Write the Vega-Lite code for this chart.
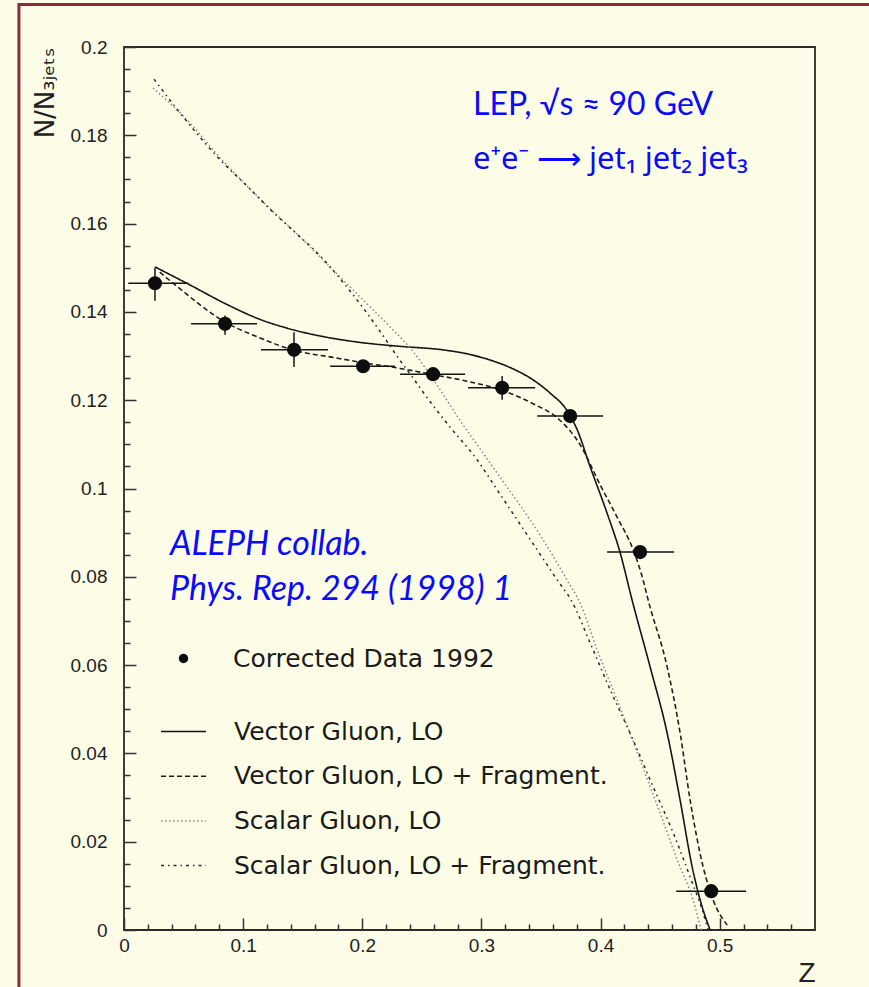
{
  "$schema": "https://vega.github.io/schema/vega-lite/v6.json",
  "width": 691,
  "height": 883,
  "autosize": {"type": "none"},
  "padding": {"left": 124, "top": 47, "right": 54, "bottom": 57},
  "background": "#fdfde7",
  "resolve": {"axis": {"x": "independent", "y": "independent"}},
  "datasets": {
    "points": [
      {"series": "Corrected Data 1992", "z": 0.026, "v": 0.1465, "zlo": 0.0036, "zhi": 0.054, "vlo": 0.1425, "vhi": 0.150},
      {"series": "Corrected Data 1992", "z": 0.0848, "v": 0.1373, "zlo": 0.0563, "zhi": 0.1117, "vlo": 0.1348, "vhi": 0.1392},
      {"series": "Corrected Data 1992", "z": 0.1427, "v": 0.1314, "zlo": 0.115, "zhi": 0.1713, "vlo": 0.1275, "vhi": 0.1354},
      {"series": "Corrected Data 1992", "z": 0.2007, "v": 0.1277, "zlo": 0.173, "zhi": 0.2275, "vlo": 0.1266, "vhi": 0.1288},
      {"series": "Corrected Data 1992", "z": 0.2594, "v": 0.1259, "zlo": 0.2317, "zhi": 0.2863, "vlo": 0.1247, "vhi": 0.1271},
      {"series": "Corrected Data 1992", "z": 0.3174, "v": 0.1228, "zlo": 0.2888, "zhi": 0.3451, "vlo": 0.1201, "vhi": 0.1255},
      {"series": "Corrected Data 1992", "z": 0.3745, "v": 0.1164, "zlo": 0.3468, "zhi": 0.4022, "vlo": 0.1149, "vhi": 0.1179},
      {"series": "Corrected Data 1992", "z": 0.4332, "v": 0.0856, "zlo": 0.4055, "zhi": 0.4618, "vlo": 0.0846, "vhi": 0.0866},
      {"series": "Corrected Data 1992", "z": 0.4929, "v": 0.0088, "zlo": 0.4635, "zhi": 0.5222, "vlo": 0.0078, "vhi": 0.0098}
    ],
    "curves": [
      {"model": "Vector Gluon, LO", "z": 0.026, "v": 0.1502},
      {"model": "Vector Gluon, LO", "z": 0.0554, "v": 0.1461},
      {"model": "Vector Gluon, LO", "z": 0.0848, "v": 0.1419},
      {"model": "Vector Gluon, LO", "z": 0.1142, "v": 0.1383},
      {"model": "Vector Gluon, LO", "z": 0.1427, "v": 0.1359},
      {"model": "Vector Gluon, LO", "z": 0.1755, "v": 0.1340},
      {"model": "Vector Gluon, LO", "z": 0.204, "v": 0.1329},
      {"model": "Vector Gluon, LO", "z": 0.2317, "v": 0.1322},
      {"model": "Vector Gluon, LO", "z": 0.2678, "v": 0.1314},
      {"model": "Vector Gluon, LO", "z": 0.288, "v": 0.1305},
      {"model": "Vector Gluon, LO", "z": 0.3073, "v": 0.1291},
      {"model": "Vector Gluon, LO", "z": 0.3257, "v": 0.1272},
      {"model": "Vector Gluon, LO", "z": 0.3434, "v": 0.1246},
      {"model": "Vector Gluon, LO", "z": 0.3577, "v": 0.1216},
      {"model": "Vector Gluon, LO", "z": 0.372, "v": 0.1176},
      {"model": "Vector Gluon, LO", "z": 0.3804, "v": 0.1133},
      {"model": "Vector Gluon, LO", "z": 0.3913, "v": 0.1049},
      {"model": "Vector Gluon, LO", "z": 0.4055, "v": 0.0944},
      {"model": "Vector Gluon, LO", "z": 0.4165, "v": 0.0854},
      {"model": "Vector Gluon, LO", "z": 0.4265, "v": 0.0747},
      {"model": "Vector Gluon, LO", "z": 0.4416, "v": 0.0596},
      {"model": "Vector Gluon, LO", "z": 0.4559, "v": 0.0446},
      {"model": "Vector Gluon, LO", "z": 0.4668, "v": 0.0294},
      {"model": "Vector Gluon, LO", "z": 0.4769, "v": 0.0143},
      {"model": "Vector Gluon, LO", "z": 0.4836, "v": 0.0068},
      {"model": "Vector Gluon, LO", "z": 0.492, "v": 0.0},

      {"model": "Vector Gluon, LO + Fragment.", "z": 0.03, "v": 0.149},
      {"model": "Vector Gluon, LO + Fragment.", "z": 0.0453, "v": 0.1456},
      {"model": "Vector Gluon, LO + Fragment.", "z": 0.0848, "v": 0.1377},
      {"model": "Vector Gluon, LO + Fragment.", "z": 0.1142, "v": 0.1341},
      {"model": "Vector Gluon, LO + Fragment.", "z": 0.1427, "v": 0.1313},
      {"model": "Vector Gluon, LO + Fragment.", "z": 0.1755, "v": 0.1297},
      {"model": "Vector Gluon, LO + Fragment.", "z": 0.2007, "v": 0.1285},
      {"model": "Vector Gluon, LO + Fragment.", "z": 0.2317, "v": 0.1272},
      {"model": "Vector Gluon, LO + Fragment.", "z": 0.2594, "v": 0.1258},
      {"model": "Vector Gluon, LO + Fragment.", "z": 0.288, "v": 0.1243},
      {"model": "Vector Gluon, LO + Fragment.", "z": 0.3157, "v": 0.1224},
      {"model": "Vector Gluon, LO + Fragment.", "z": 0.3434, "v": 0.1192},
      {"model": "Vector Gluon, LO + Fragment.", "z": 0.3645, "v": 0.1158},
      {"model": "Vector Gluon, LO + Fragment.", "z": 0.3829, "v": 0.1099},
      {"model": "Vector Gluon, LO + Fragment.", "z": 0.3997, "v": 0.1008},
      {"model": "Vector Gluon, LO + Fragment.", "z": 0.4139, "v": 0.0935},
      {"model": "Vector Gluon, LO + Fragment.", "z": 0.4274, "v": 0.0861},
      {"model": "Vector Gluon, LO + Fragment.", "z": 0.4358, "v": 0.0792},
      {"model": "Vector Gluon, LO + Fragment.", "z": 0.44, "v": 0.0747},
      {"model": "Vector Gluon, LO + Fragment.", "z": 0.4559, "v": 0.0596},
      {"model": "Vector Gluon, LO + Fragment.", "z": 0.4668, "v": 0.0446},
      {"model": "Vector Gluon, LO + Fragment.", "z": 0.4752, "v": 0.0294},
      {"model": "Vector Gluon, LO + Fragment.", "z": 0.4861, "v": 0.0143},
      {"model": "Vector Gluon, LO + Fragment.", "z": 0.4945, "v": 0.0068},
      {"model": "Vector Gluon, LO + Fragment.", "z": 0.5063, "v": 0.0011},

      {"model": "Scalar Gluon, LO", "z": 0.0244, "v": 0.1907},
      {"model": "Scalar Gluon, LO", "z": 0.0529, "v": 0.1835},
      {"model": "Scalar Gluon, LO", "z": 0.0823, "v": 0.1744},
      {"model": "Scalar Gluon, LO", "z": 0.1142, "v": 0.1656},
      {"model": "Scalar Gluon, LO", "z": 0.1461, "v": 0.1574},
      {"model": "Scalar Gluon, LO", "z": 0.1814, "v": 0.1479},
      {"model": "Scalar Gluon, LO", "z": 0.2007, "v": 0.1427},
      {"model": "Scalar Gluon, LO", "z": 0.2233, "v": 0.1366},
      {"model": "Scalar Gluon, LO", "z": 0.2427, "v": 0.1310},
      {"model": "Scalar Gluon, LO", "z": 0.2628, "v": 0.1234},
      {"model": "Scalar Gluon, LO", "z": 0.2796, "v": 0.1164},
      {"model": "Scalar Gluon, LO", "z": 0.3014, "v": 0.108},
      {"model": "Scalar Gluon, LO", "z": 0.3216, "v": 0.1003},
      {"model": "Scalar Gluon, LO", "z": 0.3409, "v": 0.0929},
      {"model": "Scalar Gluon, LO", "z": 0.3577, "v": 0.0858},
      {"model": "Scalar Gluon, LO", "z": 0.372, "v": 0.0792},
      {"model": "Scalar Gluon, LO", "z": 0.3829, "v": 0.0740},
      {"model": "Scalar Gluon, LO", "z": 0.3972, "v": 0.0634},
      {"model": "Scalar Gluon, LO", "z": 0.4139, "v": 0.0521},
      {"model": "Scalar Gluon, LO", "z": 0.4332, "v": 0.0385},
      {"model": "Scalar Gluon, LO", "z": 0.45, "v": 0.0265},
      {"model": "Scalar Gluon, LO", "z": 0.4643, "v": 0.0159},
      {"model": "Scalar Gluon, LO", "z": 0.4777, "v": 0.0068},
      {"model": "Scalar Gluon, LO", "z": 0.4845, "v": 0.0},

      {"model": "Scalar Gluon, LO + Fragment.", "z": 0.0252, "v": 0.1927},
      {"model": "Scalar Gluon, LO + Fragment.", "z": 0.0437, "v": 0.1862},
      {"model": "Scalar Gluon, LO + Fragment.", "z": 0.0621, "v": 0.1801},
      {"model": "Scalar Gluon, LO + Fragment.", "z": 0.0823, "v": 0.174},
      {"model": "Scalar Gluon, LO + Fragment.", "z": 0.1041, "v": 0.1683},
      {"model": "Scalar Gluon, LO + Fragment.", "z": 0.1251, "v": 0.1626},
      {"model": "Scalar Gluon, LO + Fragment.", "z": 0.1461, "v": 0.1574},
      {"model": "Scalar Gluon, LO + Fragment.", "z": 0.1587, "v": 0.1543},
      {"model": "Scalar Gluon, LO + Fragment.", "z": 0.1872, "v": 0.1456},
      {"model": "Scalar Gluon, LO + Fragment.", "z": 0.2149, "v": 0.1356},
      {"model": "Scalar Gluon, LO + Fragment.", "z": 0.2317, "v": 0.129},
      {"model": "Scalar Gluon, LO + Fragment.", "z": 0.2427, "v": 0.125},
      {"model": "Scalar Gluon, LO + Fragment.", "z": 0.2511, "v": 0.1218},
      {"model": "Scalar Gluon, LO + Fragment.", "z": 0.2737, "v": 0.1139},
      {"model": "Scalar Gluon, LO + Fragment.", "z": 0.2964, "v": 0.1065},
      {"model": "Scalar Gluon, LO + Fragment.", "z": 0.3132, "v": 0.0997},
      {"model": "Scalar Gluon, LO + Fragment.", "z": 0.33, "v": 0.0929},
      {"model": "Scalar Gluon, LO + Fragment.", "z": 0.3468, "v": 0.0861},
      {"model": "Scalar Gluon, LO + Fragment.", "z": 0.3636, "v": 0.0793},
      {"model": "Scalar Gluon, LO + Fragment.", "z": 0.3762, "v": 0.0743},
      {"model": "Scalar Gluon, LO + Fragment.", "z": 0.3913, "v": 0.065},
      {"model": "Scalar Gluon, LO + Fragment.", "z": 0.4081, "v": 0.0544},
      {"model": "Scalar Gluon, LO + Fragment.", "z": 0.4274, "v": 0.043},
      {"model": "Scalar Gluon, LO + Fragment.", "z": 0.4442, "v": 0.0324},
      {"model": "Scalar Gluon, LO + Fragment.", "z": 0.461, "v": 0.022},
      {"model": "Scalar Gluon, LO + Fragment.", "z": 0.4752, "v": 0.012},
      {"model": "Scalar Gluon, LO + Fragment.", "z": 0.4861, "v": 0.0039},
      {"model": "Scalar Gluon, LO + Fragment.", "z": 0.4903, "v": 0.0}
    ]
  },
  "layer": [
    {
      "data": {"name": "curves"},
      "mark": {"type": "line", "clip": true, "interpolate": "monotone"},
      "encoding": {
        "x": {
          "field": "z", "type": "quantitative",
          "scale": {"domain": [0, 0.58], "nice": false, "zero": false},
          "axis": {
            "orient": "bottom",
            "title": "Z", "titleAnchor": "end", "titleAlign": "right", "titleFont": "Liberation Sans", "titleFontSize": 28, "titleFontWeight": "normal", "titleColor": "#222", "titlePadding": 4,
            "values": [0, 0.1, 0.2, 0.3, 0.4, 0.5],
            "format": "~g",
            "labelOverlap": false,
            "tickSize": -12,
            "labelPadding": 18
          }
        },
        "y": {
          "field": "v", "type": "quantitative",
          "scale": {"domain": [0, 0.2], "nice": false},
          "axis": {
            "orient": "left",
            "title": "N/N₃ⱼₑₜₛ", "titleAnchor": "end", "titleFont": "DejaVu Sans", "titleFontSize": 26, "titleFontWeight": "normal", "titleColor": "#222", "titlePadding": 12,
            "values": [0, 0.02, 0.04, 0.06, 0.08, 0.1, 0.12, 0.14, 0.16, 0.18, 0.2],
            "format": "~g",
            "labelOverlap": false,
            "tickSize": -12,
            "labelPadding": 29
          }
        },
        "color": {
          "field": "model", "type": "nominal",
          "scale": {"domain": ["Vector Gluon, LO", "Vector Gluon, LO + Fragment.", "Scalar Gluon, LO", "Scalar Gluon, LO + Fragment."], "range": ["#151515", "#1e1e1e", "#8a8a8a", "#2a2a2a"]},
          "legend": {"title": null, "orient": "none", "legendX": 36, "legendY": 661, "symbolType": "stroke", "symbolSize": 2025, "labelFont": "DejaVu Sans", "labelFontSize": 25, "labelColor": "#1a1a1a", "labelOffset": 27, "labelLimit": 600, "padding": 0, "rowPadding": 7.7}
        },
        "strokeDash": {
          "field": "model", "type": "nominal",
          "scale": {"domain": ["Vector Gluon, LO", "Vector Gluon, LO + Fragment.", "Scalar Gluon, LO", "Scalar Gluon, LO + Fragment."], "range": [[1, 0], [5, 3], [1.5, 2.5], [3, 4, 1.5, 4]]},
          "legend": {"title": null, "orient": "none", "legendX": 36, "legendY": 661, "symbolType": "stroke", "symbolSize": 2025, "labelFont": "DejaVu Sans", "labelFontSize": 25, "labelColor": "#1a1a1a", "labelOffset": 27, "labelLimit": 600, "padding": 0, "rowPadding": 7.7}
        },
        "strokeWidth": {
          "field": "model", "type": "nominal",
          "scale": {"domain": ["Vector Gluon, LO", "Vector Gluon, LO + Fragment.", "Scalar Gluon, LO", "Scalar Gluon, LO + Fragment."], "range": [1.6, 1.5, 1.1, 2.0]},
          "legend": {"title": null, "orient": "none", "legendX": 36, "legendY": 661, "symbolType": "stroke", "symbolSize": 2025, "labelFont": "DejaVu Sans", "labelFontSize": 25, "labelColor": "#1a1a1a", "labelOffset": 27, "labelLimit": 600, "padding": 0, "rowPadding": 7.7}
        }
      }
    },
    {
      "data": {"values": [{}]},
      "mark": {"type": "rect", "fill": "transparent", "stroke": "#8d2b3b", "strokeWidth": 3, "clip": false},
      "encoding": {
        "x": {"datum": -0.0882, "type": "quantitative",
          "axis": {"orient": "bottom", "title": null, "labels": false, "tickSize": -6,
            "values": [0.02,0.04,0.06,0.08,0.12,0.14,0.16,0.18,0.22,0.24,0.26,0.28,0.32,0.34,0.36,0.38,0.42,0.44,0.46,0.48,0.52,0.54,0.56]}},
        "x2": {"datum": 0.75},
        "y": {"datum": 0.2096, "type": "quantitative",
          "axis": {"orient": "left", "title": null, "labels": false, "tickSize": -6,
            "values": [0.005,0.01,0.015,0.025,0.03,0.035,0.045,0.05,0.055,0.065,0.07,0.075,0.085,0.09,0.095,0.105,0.11,0.115,0.125,0.13,0.135,0.145,0.15,0.155,0.165,0.17,0.175,0.185,0.19,0.195]}},
        "y2": {"datum": -0.03}
      }
    },
    {
      "data": {"name": "points"},
      "mark": {"type": "rule", "color": "#151515", "strokeWidth": 1.5},
      "encoding": {
        "x": {"field": "zlo", "type": "quantitative", "axis": null},
        "x2": {"field": "zhi"},
        "y": {"field": "v", "type": "quantitative", "axis": null}
      }
    },
    {
      "data": {"name": "points"},
      "mark": {"type": "rule", "color": "#151515", "strokeWidth": 1.5},
      "encoding": {
        "x": {"field": "z", "type": "quantitative", "axis": null},
        "y": {"field": "vlo", "type": "quantitative", "axis": null},
        "y2": {"field": "vhi"}
      }
    },
    {
      "data": {"name": "points"},
      "mark": {"type": "point", "filled": true, "opacity": 1, "color": "#0d0d0d", "size": 200},
      "encoding": {
        "x": {"field": "z", "type": "quantitative", "axis": null},
        "y": {"field": "v", "type": "quantitative", "axis": null},
        "shape": {
          "field": "series", "type": "nominal",
          "scale": {"range": ["circle"]},
          "legend": {"title": null, "orient": "none", "legendX": 47, "legendY": 599, "symbolSize": 90, "symbolFillColor": "#111", "symbolStrokeColor": "#111", "labelFont": "DejaVu Sans", "labelFontSize": 25, "labelColor": "#1a1a1a", "labelOffset": 37, "labelLimit": 600, "padding": 0}
        }
      }
    },
    {
      "data": {"values": [{}]},
      "mark": {"type": "text", "text": "LEP, √s ≈ 90 GeV", "font": "Lato", "fontSize": 32, "color": "#0a0aff", "align": "left", "baseline": "middle"},
      "encoding": {"x": {"datum": 0.293, "type": "quantitative", "axis": null}, "y": {"datum": 0.1869, "type": "quantitative", "axis": null}}
    },
    {
      "data": {"values": [{}]},
      "mark": {"type": "text", "text": "e⁺e⁻ ⟶ jet₁ jet₂ jet₃", "font": "Noto Sans", "fontSize": 31, "color": "#0a0aff", "align": "left", "baseline": "middle"},
      "encoding": {"x": {"datum": 0.293, "type": "quantitative", "axis": null}, "y": {"datum": 0.1744, "type": "quantitative", "axis": null}}
    },
    {
      "data": {"values": [{}]},
      "mark": {"type": "text", "text": "ALEPH collab.", "font": "Lato", "fontSize": 34, "fontStyle": "italic", "color": "#0a0aff", "align": "left", "baseline": "middle"},
      "encoding": {"x": {"datum": 0.0386, "type": "quantitative", "axis": null}, "y": {"datum": 0.0872, "type": "quantitative", "axis": null}}
    },
    {
      "data": {"values": [{}]},
      "mark": {"type": "text", "text": "Phys. Rep. 294 (1998) 1", "font": "Lato", "fontSize": 34, "fontStyle": "italic", "color": "#0a0aff", "align": "left", "baseline": "middle"},
      "encoding": {"x": {"datum": 0.0386, "type": "quantitative", "axis": null}, "y": {"datum": 0.077, "type": "quantitative", "axis": null}}
    }
  ],
  "config": {
    "view": {"stroke": "#2b2b2b", "strokeWidth": 1.8},
    "axis": {
      "domain": false, "grid": false, "zindex": 1,
      "tickColor": "#333", "tickWidth": 1.5,
      "labelFont": "Liberation Sans", "labelFontSize": 19, "labelColor": "#222",
      "labelFlush": false, "labelBound": false
    }
  }
}
